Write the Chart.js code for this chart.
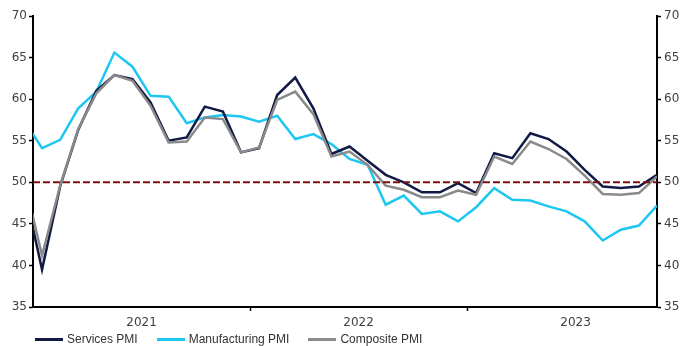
<!DOCTYPE html>
<html lang="en">
<head>
    <meta charset="UTF-8">
    <title>UK PMIs</title>
    <script src="https://cdn.jsdelivr.net/npm/chart.js"></script>
    <style>
        * { margin: 0; padding: 0; box-sizing: border-box; }
        body { background: white; width: 681px; height: 346px; overflow: hidden; }
        .wrap { position: relative; width: 681px; height: 346px; }
        .legend {
            position: absolute;
            left: 35px;
            top: 332px;
            display: flex;
            align-items: center;
            font-family: 'Liberation Sans', Arial, sans-serif;
            font-size: 12px;
            color: #333;
        }
        .item { display: flex; align-items: center; margin-right: 19px; }
        .swatch { width: 28px; height: 3px; margin-right: 4px; }
    </style>
</head>
<body>
    <div class="wrap">
        <canvas id="pmiChart" width="681" height="346"></canvas>
        <div class="legend" id="legend"></div>
    </div>

    <script>
        // Monthly readings, Dec 2020 - Nov 2023 (Dec 2020 only shows as the clipped start of the lines)
        const months = [
            'Dec 2020',
            'Jan 2021', 'Feb 2021', 'Mar 2021', 'Apr 2021', 'May 2021', 'Jun 2021',
            'Jul 2021', 'Aug 2021', 'Sep 2021', 'Oct 2021', 'Nov 2021', 'Dec 2021',
            'Jan 2022', 'Feb 2022', 'Mar 2022', 'Apr 2022', 'May 2022', 'Jun 2022',
            'Jul 2022', 'Aug 2022', 'Sep 2022', 'Oct 2022', 'Nov 2022', 'Dec 2022',
            'Jan 2023', 'Feb 2023', 'Mar 2023', 'Apr 2023', 'May 2023', 'Jun 2023',
            'Jul 2023', 'Aug 2023', 'Sep 2023', 'Oct 2023', 'Nov 2023'
        ];
        const services = [
            49.4,
            39.5, 49.5, 56.3, 61.0, 62.9, 62.4, 59.6, 55.0, 55.4, 59.1, 58.5, 53.6,
            54.1, 60.5, 62.6, 58.9, 53.4, 54.3, 52.6, 50.9, 50.0, 48.8, 48.8, 49.9,
            48.7, 53.5, 52.9, 55.9, 55.2, 53.7, 51.5, 49.5, 49.3, 49.5, 50.9
        ];
        const manufacturing = [
            57.5,
            54.1, 55.1, 58.9, 60.9, 65.6, 63.9, 60.4, 60.3, 57.1, 57.8, 58.1, 57.9,
            57.3, 58.0, 55.2, 55.8, 54.6, 52.8, 52.1, 47.3, 48.4, 46.2, 46.5, 45.3,
            47.0, 49.3, 47.9, 47.8, 47.1, 46.5, 45.3, 43.0, 44.3, 44.8, 47.2
        ];
        const composite = [
            50.4,
            41.2, 49.6, 56.4, 60.7, 62.9, 62.2, 59.2, 54.8, 54.9, 57.8, 57.6, 53.6,
            54.2, 59.9, 60.9, 58.2, 53.1, 53.7, 52.1, 49.6, 49.1, 48.2, 48.2, 49.0,
            48.5, 53.1, 52.2, 54.9, 54.0, 52.8, 50.8, 48.6, 48.5, 48.7, 50.7
        ];
        const yearLabels = ['2021', '2022', '2023'];
        const threshold = 50;

        const colors = {
            services: '#111a45',
            manufacturing: '#1ec6f2',
            composite: '#8a8a8a',
            threshold: '#7f1010'
        };

        // x axis counts months from Jan 2021; each reading sits mid-month
        const toPoints = arr => arr.map((v, i) => ({ x: i - 0.5, y: v }));
        const xMin = 0;
        const xMax = months.length - 1.5;

        const tickFont = { family: 'DejaVu Sans', size: 12 };

        new Chart(document.getElementById('pmiChart'), {
            type: 'line',
            data: {
                datasets: [
                    {
                        label: 'threshold',
                        data: [{ x: xMin, y: threshold }, { x: xMax, y: threshold }],
                        borderColor: colors.threshold,
                        borderWidth: 2,
                        borderDash: [7, 3]
                    },
                    { label: 'Composite PMI', data: toPoints(composite), borderColor: colors.composite },
                    { label: 'Services PMI', data: toPoints(services), borderColor: colors.services },
                    { label: 'Manufacturing PMI', data: toPoints(manufacturing), borderColor: colors.manufacturing }
                ]
            },
            options: {
                responsive: false,
                animation: false,
                layout: { padding: { top: 16, bottom: 15, left: 0, right: 0 } },
                elements: {
                    line: { borderWidth: 2.5, tension: 0 },
                    point: { radius: 0 }
                },
                plugins: {
                    legend: { display: false },
                    tooltip: { enabled: false }
                },
                scales: {
                    x: {
                        type: 'linear',
                        min: xMin,
                        max: xMax,
                        afterBuildTicks: scale => {
                            scale.ticks = [6, 12, 18, 24, 30].map(v => ({ value: v }));
                        },
                        afterFit: scale => { scale.height = 24; },
                        ticks: {
                            autoSkip: false,
                            maxRotation: 0,
                            padding: 5,
                            color: '#404040',
                            font: tickFont,
                            callback: v => (v % 12 === 6 ? yearLabels[(v - 6) / 12] : '')
                        },
                        grid: {
                            drawOnChartArea: false,
                            tickLength: 4,
                            tickWidth: 1.5,
                            tickColor: ctx => (ctx.tick && ctx.tick.value % 12 === 0 ? '#000' : 'rgba(0,0,0,0)')
                        },
                        border: { color: '#000', width: 2 }
                    },
                    y: {
                        position: 'left',
                        min: 35,
                        max: 70,
                        afterFit: scale => { scale.width = 33; },
                        ticks: { stepSize: 5, padding: 2, color: '#404040', font: tickFont },
                        grid: { drawOnChartArea: false, tickLength: 4, tickWidth: 1.5, tickColor: '#000' },
                        border: { color: '#000', width: 2 }
                    },
                    y2: {
                        position: 'right',
                        min: 35,
                        max: 70,
                        afterFit: scale => { scale.width = 24; },
                        ticks: { stepSize: 5, padding: 3, color: '#404040', font: tickFont },
                        grid: { drawOnChartArea: false, tickLength: 4, tickWidth: 1.5, tickColor: '#000' },
                        border: { color: '#000', width: 2 }
                    }
                }
            }
        });

        // HTML legend
        const legendItems = [
            ['Services PMI', colors.services],
            ['Manufacturing PMI', colors.manufacturing],
            ['Composite PMI', colors.composite]
        ];
        const legend = document.getElementById('legend');
        legendItems.forEach(([name, color]) => {
            const item = document.createElement('div');
            item.className = 'item';
            const sw = document.createElement('span');
            sw.className = 'swatch';
            sw.style.background = color;
            const txt = document.createElement('span');
            txt.textContent = name;
            item.appendChild(sw);
            item.appendChild(txt);
            legend.appendChild(item);
        });
    </script>
</body>
</html>
